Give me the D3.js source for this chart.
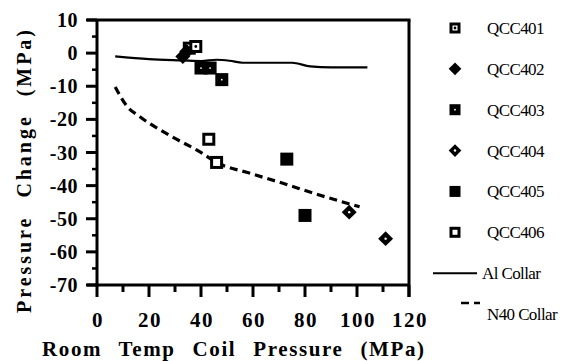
<!DOCTYPE html>
<html>
<head>
<meta charset="utf-8">
<script src="https://cdn.jsdelivr.net/npm/d3@7"></script>
<style>
  body { margin: 0; background: #fff; }
  svg { display: block; }
  svg text { font-family: 'Liberation Serif', 'DejaVu Serif', serif; }
</style>
</head>
<body>
<div id="chart"></div>
<script>
// data
const xTicks = [0, 20, 40, 60, 80, 100, 120]
const yTicks = [10, 0, -10, -20, -30, -40, -50, -60, -70]

const series = [
  { name: 'QCC401', kind: 'sqdot', pts: [[35.5, 1.5], [38, 2]] },
  { name: 'QCC402', kind: 'diamond', pts: [[33, -1], [34.5, 0.5]] },
  { name: 'QCC403', kind: 'sqfill', pts: [[40, -4.5], [43.5, -4.5], [48, -8]] },
  { name: 'QCC404', kind: 'diadot', pts: [[97, -48], [111, -56]] },
  { name: 'QCC405', kind: 'square', pts: [[73, -32], [80, -49]] },
  { name: 'QCC406', kind: 'open', pts: [[43, -26], [46, -33]] }
]

const alCollar = [[7, -1], [20, -1.8], [33, -2.2], [40, -2.4], [46, -2], [51, -2.3], [56, -2.9],
  [75, -2.9], [82, -4], [90, -4.3], [104, -4.3]]
const n40Collar = [[7, -10.2], [11.5, -16], [16.5, -19.2], [29, -25.3], [39.6, -29.8], [46, -33],
  [59, -36.3], [71.5, -39.3], [84.5, -42.6], [101, -46.4]]

const W = 574, H = 361
const svg = d3.select('#chart').append('svg').attr('width', W).attr('height', H)

const x = d3.scaleLinear().domain([0, 120]).range([97, 409])
const y = d3.scaleLinear().domain([-70, 10]).range([285, 20])

// frame
const frame = svg.append('g').attr('stroke', '#000').attr('stroke-width', 3).attr('fill', 'none')
frame.append('line').attr('x1', x(0)).attr('x2', x(0)).attr('y1', y(10)).attr('y2', y(-70) + 1.5)
frame.append('line').attr('x1', x(0) - 10).attr('x2', x(120) + 1.5).attr('y1', y(10)).attr('y2', y(10))
frame.append('line').attr('x1', x(0) - 10).attr('x2', x(120)).attr('y1', y(-70)).attr('y2', y(-70))
frame.append('line').attr('x1', x(120)).attr('x2', x(120)).attr('y1', y(10)).attr('y2', y(-70) + 12)

// y ticks, major every 10, minor every 5
d3.range(-70, 11, 5).forEach(v => {
  const major = v % 10 === 0
  frame.append('line')
    .attr('x1', x(0) - (major ? 11 : 5)).attr('x2', x(0))
    .attr('y1', y(v)).attr('y2', y(v))
    .attr('stroke-width', major ? 3 : 2.5)
})
// x ticks, major every 20, minor every 10
d3.range(0, 121, 10).forEach(v => {
  const major = v % 20 === 0
  frame.append('line')
    .attr('x1', x(v)).attr('x2', x(v))
    .attr('y1', y(-70)).attr('y2', y(-70) + (major ? 12 : 7))
    .attr('stroke-width', 3)
})

svg.append('g').selectAll('text').data(yTicks).enter().append('text')
  .attr('font-weight', 'bold')
  .attr('x', 78).attr('y', d => y(d) + 7)
  .attr('text-anchor', 'end')
  .style('font-size', '20px').style('letter-spacing', '0.5px')
  .text(d => d)

svg.append('g').selectAll('text').data(xTicks).enter().append('text')
  .attr('font-weight', 'bold')
  .attr('x', d => x(d) + 1).attr('y', 327)
  .attr('text-anchor', 'middle')
  .style('font-size', '21px').style('letter-spacing', '1.5px')
  .text(d => d)

// axis titles
svg.append('text')
  .attr('font-weight', 'bold')
  .attr('x', 42).attr('y', 356)
  .attr('textLength', 382).attr('lengthAdjust', 'spacing')
  .style('font-size', '21px').style('word-spacing', '10px')
  .text('Room Temp Coil Pressure (MPa)')

svg.append('text')
  .attr('font-weight', 'bold')
  .attr('transform', 'translate(31,313) rotate(-90)')
  .attr('textLength', 283).attr('lengthAdjust', 'spacing')
  .style('font-size', '20px').style('word-spacing', '10px')
  .text('Pressure Change (MPa)')

// curves
const line = d3.line().x(d => x(d[0])).y(d => y(d[1])).curve(d3.curveMonotoneX)
svg.append('path').datum(alCollar).attr('d', line)
  .attr('fill', 'none').attr('stroke', '#000').attr('stroke-width', 2.2)
svg.append('path').datum(n40Collar).attr('d', line)
  .attr('fill', 'none').attr('stroke', '#000').attr('stroke-width', 3.2)
  .attr('stroke-dasharray', '8,5')

// markers
function marker(g, kind, s) {
  const h = s / 2
  if (kind === 'diamond' || kind === 'diadot') {
    const d = h * 1.15
    g.append('path').attr('d', `M0,${-d}L${d},0L0,${d}L${-d},0Z`).attr('fill', '#000')
    if (kind === 'diadot') g.append('circle').attr('r', 1.2).attr('fill', '#fff')
    return
  }
  if (kind === 'open' || kind === 'sqdot') {
    g.append('rect').attr('x', -h + 1.5).attr('y', -h + 1.5).attr('width', s - 3).attr('height', s - 3)
      .attr('fill', '#fff').attr('stroke', '#000').attr('stroke-width', 3)
    if (kind === 'sqdot') g.append('circle').attr('r', 1.4).attr('fill', '#000')
    return
  }
  g.append('rect').attr('x', -h).attr('y', -h).attr('width', s).attr('height', s).attr('fill', '#000')
  if (kind === 'sqfill') g.append('circle').attr('r', 0.9).attr('fill', '#fff')
}

series.forEach(sr => {
  sr.pts.forEach(p => {
    const g = svg.append('g').attr('transform', `translate(${x(p[0])},${y(p[1])})`)
    marker(g, sr.kind, 13)
  })
})

// legend
const legend = svg.append('g')
  .attr('font-size', 17).style('letter-spacing', '-0.6px')
const rowY = d3.scaleLinear().domain([0, 7]).range([28, 314])
series.forEach((sr, i) => {
  const g = legend.append('g').attr('transform', `translate(455,${rowY(i)})`)
  marker(g, sr.kind, 11)
  legend.append('text').attr('x', 487).attr('y', rowY(i) + 6).text(sr.name)
})
legend.append('line').attr('x1', 433).attr('x2', 477).attr('y1', rowY(6)).attr('y2', rowY(6))
  .attr('stroke', '#000').attr('stroke-width', 2)
legend.append('text').attr('x', 482).attr('y', rowY(6) + 6).text('Al Collar')
legend.append('line').attr('x1', 461).attr('x2', 480).attr('y1', 303).attr('y2', 303)
  .attr('stroke', '#000').attr('stroke-width', 2.5).attr('stroke-dasharray', '8,5')
legend.append('text').attr('x', 487).attr('y', rowY(7) + 6).text('N40 Collar')
</script>
</body>
</html>
